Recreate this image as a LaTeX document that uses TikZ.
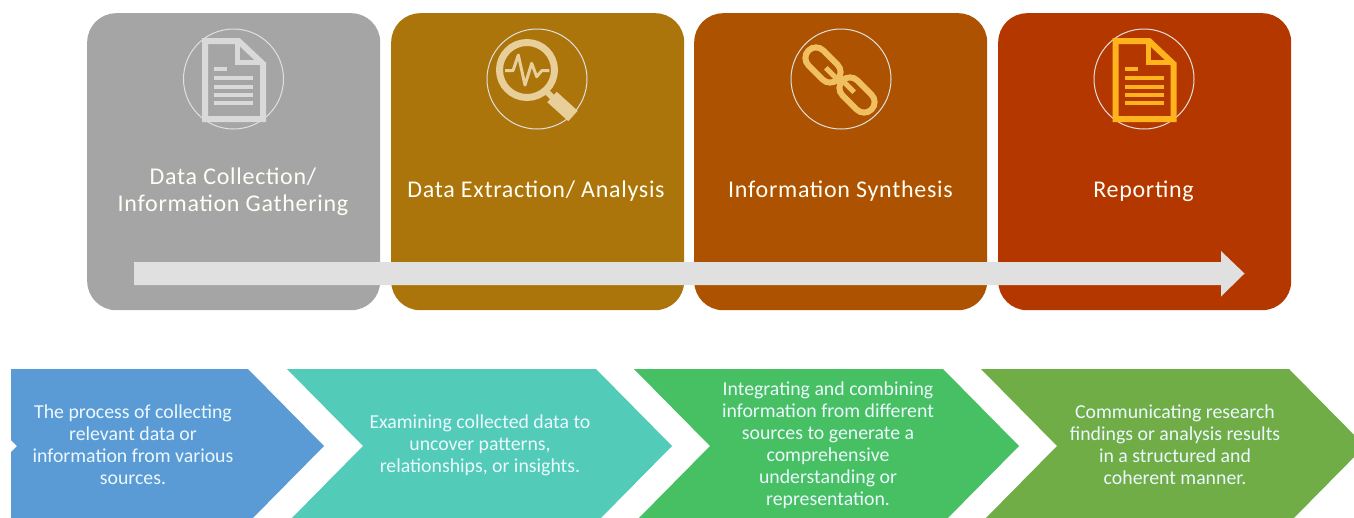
\documentclass[tikz,border=0pt]{standalone}
\usepackage{fontspec}
\setmainfont{Carlito}
\newfontfamily\headfont[LetterSpace=3]{Carlito}
\definecolor{cgray}{HTML}{A5A5A5}
\definecolor{cbrown}{HTML}{AB750C}
\definecolor{corange}{HTML}{AD5200}
\definecolor{cred}{HTML}{B53700}
\definecolor{cblue}{HTML}{5B9BD5}
\definecolor{cteal}{HTML}{53CBB9}
\definecolor{cgreen}{HTML}{47BF63}
\definecolor{colive}{HTML}{70AD47}
\definecolor{igray}{HTML}{D9D9D9}
\definecolor{iyellow}{HTML}{FFB41E}
\definecolor{imag}{HTML}{E8CF9A}
\definecolor{ichain}{HTML}{F0C060}
\definecolor{barcol}{HTML}{E0E0E0}
\tikzset{
  card/.style={fill=#1,rounded corners=29pt,minimum width=293pt,minimum height=297pt,inner sep=0pt,anchor=north west},
  headtext/.style={text=white!96!yellow,font=\headfont\fontsize{24}{27}\selectfont,align=center,inner sep=0pt},
  bodytext/.style={text=white!92!cyan,font=\fontsize{19.8}{22}\selectfont,align=center,inner sep=0pt},
  ring/.style={draw=white!88!black,line width=1pt,circle,minimum size=100pt,inner sep=0pt},
  pageicon/.style={draw=#1,line width=6pt,line join=miter,fill=none},
}
\newcommand{\pageglyph}[2]{%
  \begin{scope}[shift={(#1)}]
    \draw[pageicon=#2] (-28.5,-38) -- (5,-38) -- (29.5,-15) -- (29.5,40) -- (-28.5,40) -- cycle;
    \draw[#2,line width=5pt] (4,-38) -- (4,-16.5) -- (27,-16.5);
    \fill[#2] (-19.5,-12) rectangle (-6.5,-8);
    \fill[#2] (-19.5,-3) rectangle (19.5,1);
    \fill[#2] (-19.5,6) rectangle (19.5,10);
    \fill[#2] (-19.5,14) rectangle (19.5,18);
    \fill[#2] (-19.5,22) rectangle (19.5,26);
  \end{scope}}
\begin{document}
\begin{tikzpicture}[x=1pt,y=-1pt]
\useasboundingbox (0,0) rectangle (1354,517);
\clip (0,0) rectangle (1354,517);
% cards
\node[card=cgray] (c1) at (87,13) {};
\node[card=cbrown] (c2) at (391,13) {};
\node[card=corange] (c3) at (694,13) {};
\node[card=cred] (c4) at (998,13) {};
% rings
\node[ring] (r1) at (233.5,79) {};
\node[ring] (r2) at (537,79) {};
\node[ring] (r3) at (841,79) {};
\node[ring] (r4) at (1144,79) {};
% document icons
\pageglyph{r1}{igray}
\pageglyph{r4}{iyellow}
% magnifier
\draw[imag,line width=7pt] (527,70) circle (27.5);
\draw[imag,line width=6pt] (545,90) -- (553,98);
\draw[imag,line width=14pt] (552,97) -- (573,116);
\draw[imag,line width=3pt,line join=round] (505,70.7) -- (513,70.7) -- (518.3,55) -- (525,85) -- (531.7,63.3) -- (536.7,76.7) -- (541.7,70.7) -- (549.3,70.7);
% chain
\begin{scope}[shift={(823,65)},rotate=-45]
  \draw[ichain,line width=6pt,rounded corners=10.4pt] (-20.5,-10.5) rectangle (20.5,10.5);
  \draw[ichain,line width=5pt] (4,0) -- (20,0);
\end{scope}
\begin{scope}[shift={(857,95)},rotate=-45]
  \draw[ichain,line width=6pt,rounded corners=10.4pt] (-20.5,-10.5) rectangle (20.5,10.5);
  \draw[ichain,line width=5pt] (-20,0) -- (-4,0);
\end{scope}
% headings
\node[headtext] (h1) at (233,191.5) {Data Collection/\\Information Gathering};
\node[headtext] (h2) at (536,191.5) {Data Extraction/ Analysis};
\node[headtext] (h3) at (840.5,191.5) {Information Synthesis};
\node[headtext] (h4) at (1143.5,191.5) {Reporting};
% timeline arrow
\fill[barcol] (134,262) -- (1221,262) -- (1221,251) -- (1244.5,273.5) -- (1221,296.5) -- (1221,285) -- (134,285) -- cycle;
% chevrons
\fill[cblue] (11,369) -- (248,369) -- (324,446) -- (248,523) -- (11,523) -- (11,452) -- (17,446) -- (11,440) -- cycle;
\fill[cteal] (287,369) -- (596,369) -- (672,446) -- (596,523) -- (287,523) -- (363,446) -- cycle;
\fill[cgreen] (634,369) -- (943,369) -- (1019,446) -- (943,523) -- (634,523) -- (710,446) -- cycle;
\fill[colive] (981,369) -- (1289,369) -- (1365,446) -- (1289,523) -- (981,523) -- (1057,446) -- cycle;
% descriptions
\node[bodytext] (t1) at (133,444.5) {The process of collecting\\relevant data or\\information from various\\sources.};
\node[bodytext] (t2) at (480,445) {Examining collected data to\\uncover patterns,\\relationships, or insights.};
\node[bodytext] (t3) at (828,445.5) {Integrating and combining\\information from different\\sources to generate a\\comprehensive\\understanding or\\representation.};
\node[bodytext] (t4) at (1175,444.5) {Communicating research\\findings or analysis results\\in a structured and\\coherent manner.};
\end{tikzpicture}
\end{document}
